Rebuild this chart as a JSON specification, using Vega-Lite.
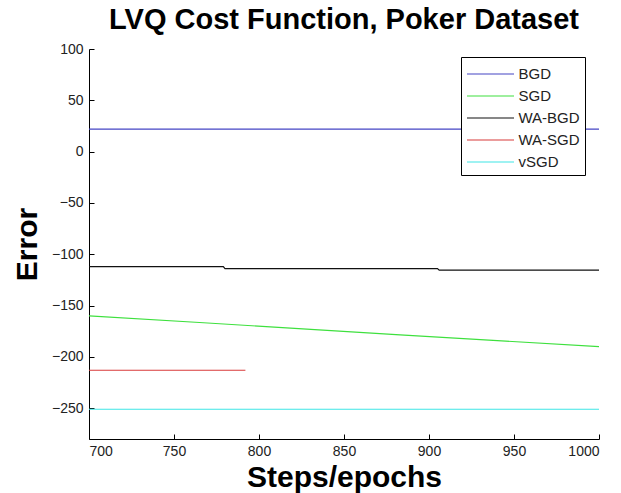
{
  "$schema": "https://vega.github.io/schema/vega-lite/v6.json",
  "width": 510,
  "height": 390,
  "autosize": {"type": "none"},
  "padding": {"left": 89, "top": 49, "right": 22, "bottom": 54},
  "background": "white",
  "title": {
    "text": "LVQ Cost Function, Poker Dataset",
    "font": "Liberation Sans",
    "fontSize": 29,
    "fontWeight": "bold",
    "color": "black",
    "anchor": "middle",
    "offset": 7
  },
  "config": {
    "view": {"stroke": null},
    "axis": {
      "grid": false,
      "domainColor": "black",
      "tickColor": "black",
      "labelFont": "Liberation Sans",
      "labelFontSize": 14,
      "labelColor": "#222",
      "titleFont": "Liberation Sans",
      "titleFontSize": 30,
      "titleFontWeight": "bold",
      "titleColor": "black"
    }
  },
  "data": {
    "values": [
      {"step": 700, "error": 22, "method": "BGD"},
      {"step": 1000, "error": 22, "method": "BGD"},
      {"step": 700, "error": -160, "method": "SGD"},
      {"step": 765, "error": -166.5, "method": "SGD"},
      {"step": 883, "error": -178.5, "method": "SGD"},
      {"step": 1000, "error": -190, "method": "SGD"},
      {"step": 700, "error": -112, "method": "WA-BGD"},
      {"step": 779, "error": -112, "method": "WA-BGD"},
      {"step": 780, "error": -114, "method": "WA-BGD"},
      {"step": 905, "error": -114, "method": "WA-BGD"},
      {"step": 906, "error": -115.5, "method": "WA-BGD"},
      {"step": 1000, "error": -115.5, "method": "WA-BGD"},
      {"step": 700, "error": -213, "method": "WA-SGD"},
      {"step": 792, "error": -213, "method": "WA-SGD"},
      {"step": 700, "error": -251, "method": "vSGD"},
      {"step": 1000, "error": -251, "method": "vSGD"}
    ]
  },
  "mark": {"type": "line", "strokeWidth": 1.2, "clip": true},
  "encoding": {
    "x": {
      "field": "step",
      "type": "quantitative",
      "scale": {"domain": [700, 1000], "nice": false, "zero": false},
      "axis": {
        "title": "Steps/epochs",
        "format": "d",
        "values": [700, 750, 800, 850, 900, 950, 1000],
        "tickSize": -5,
        "labelPadding": 10,
        "titlePadding": 4
      }
    },
    "y": {
      "field": "error",
      "type": "quantitative",
      "scale": {"domain": [-280, 100], "nice": false, "zero": false},
      "axis": {
        "title": "Error",
        "values": [100, 50, 0, -50, -100, -150, -200, -250],
        "tickSize": -5,
        "labelPadding": 11,
        "titlePadding": 9
      }
    },
    "color": {
      "field": "method",
      "type": "nominal",
      "scale": {
        "domain": ["BGD", "SGD", "WA-BGD", "WA-SGD", "vSGD"],
        "range": ["#4444c4", "#3ee03e", "#111111", "#d83a3a", "#3ee6e6"]
      },
      "legend": {
        "title": null,
        "orient": "none",
        "legendX": 372,
        "legendY": 8,
        "symbolType": "M-2.14,0H2.14",
        "symbolSize": 484,
        "symbolOffset": 12.5,
        "symbolStrokeWidth": 1.2,
        "labelFont": "Liberation Sans",
        "labelFontSize": 15,
        "labelColor": "#222",
        "labelOffset": 16,
        "rowPadding": 2,
        "padding": 5,
        "strokeColor": "black",
        "fillColor": "white"
      }
    }
  }
}
